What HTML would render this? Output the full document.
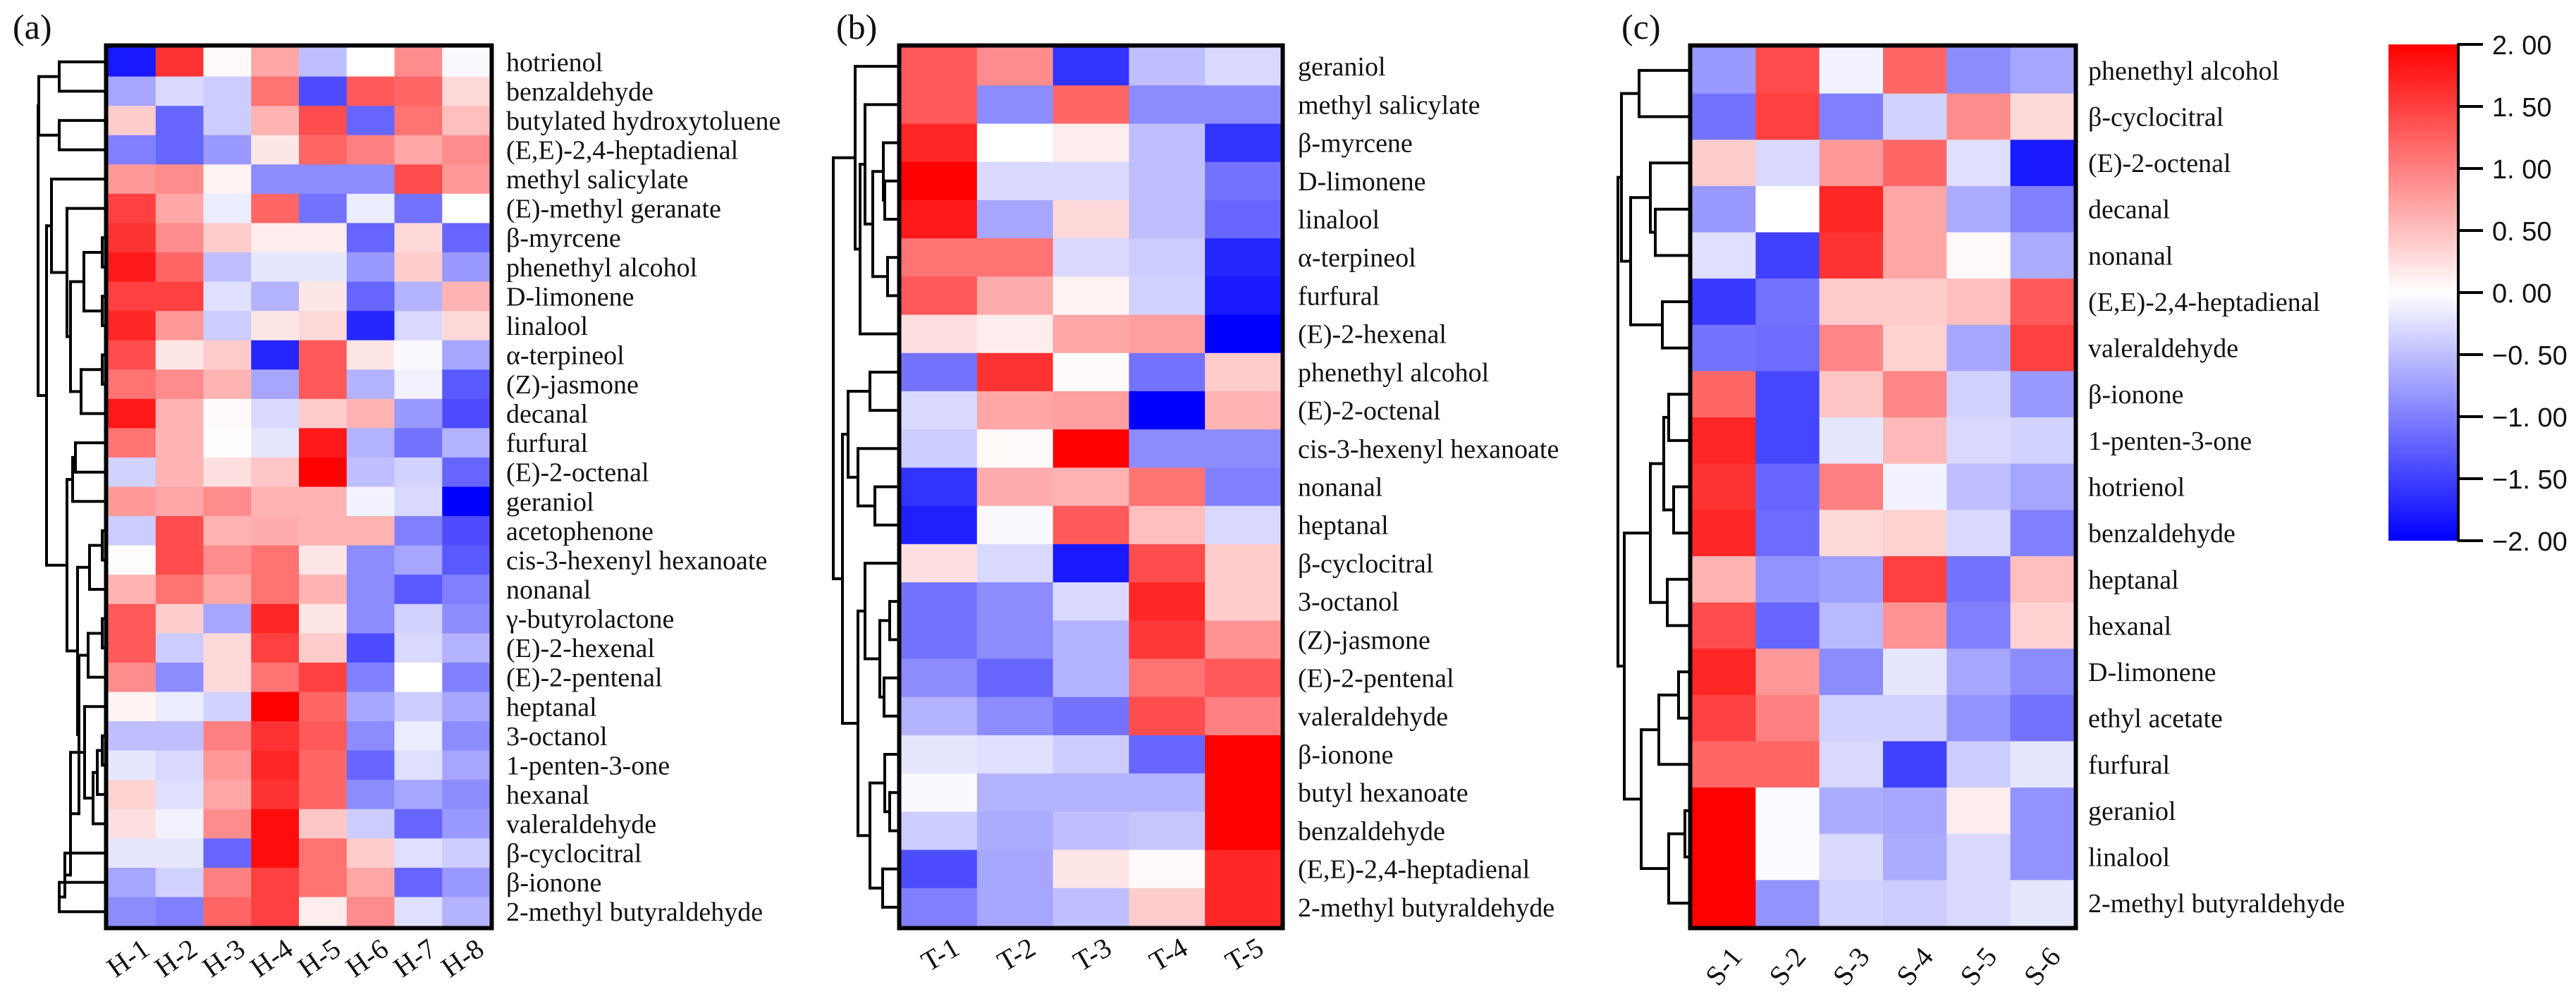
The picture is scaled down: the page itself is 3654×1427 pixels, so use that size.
<!DOCTYPE html>
<html><head><meta charset="utf-8"><style>
html,body{margin:0;padding:0;background:#fff;}
svg{display:block;}
text{font-family:"Liberation Serif",serif;fill:#111;}
.cb{font-family:"Liberation Sans",sans-serif;}
</style></head><body>
<svg id="chart" width="3654" height="1427" viewBox="0 0 3654 1427" xmlns="http://www.w3.org/2000/svg">
<defs><linearGradient id="cbg" x1="0" y1="0" x2="0" y2="1">
<stop offset="0" stop-color="#ff0000"/><stop offset="0.5" stop-color="#ffffff"/><stop offset="1" stop-color="#0000ff"/></linearGradient></defs>
<g id="root"></g>
</svg>
<script>
// ---------- data ----------
const rowsA = ["hotrienol","benzaldehyde","butylated hydroxytoluene","(E,E)-2,4-heptadienal","methyl salicylate","(E)-methyl geranate","β-myrcene","phenethyl alcohol","D-limonene","linalool","α-terpineol","(Z)-jasmone","decanal","furfural","(E)-2-octenal","geraniol","acetophenone","cis-3-hexenyl hexanoate","nonanal","γ-butyrolactone","(E)-2-hexenal","(E)-2-pentenal","heptanal","3-octanol","1-penten-3-one","hexanal","valeraldehyde","β-cyclocitral","β-ionone","2-methyl butyraldehyde"];
const colsA = ["H-1","H-2","H-3","H-4","H-5","H-6","H-7","H-8"];
const valsA = [
[-1.8,1.6,0.05,0.7,-0.5,0,0.9,-0.05],
[-0.7,-0.3,-0.4,1.1,-1.4,1.3,1.2,0.3],
[0.4,-1.2,-0.4,0.6,1.4,-1.2,1.1,0.5],
[-1.0,-1.2,-0.8,0.2,1.2,1.0,0.7,0.9],
[0.8,0.9,0.1,-0.9,-0.9,-0.9,1.4,0.8],
[1.5,0.7,-0.15,1.2,-1.1,-0.15,-1.1,0],
[1.6,0.9,0.4,0.15,0.15,-1.2,0.3,-1.2],
[1.8,1.2,-0.5,-0.2,-0.2,-0.8,0.4,-0.8],
[1.5,1.5,-0.25,-0.6,0.2,-1.2,-0.6,0.6],
[1.7,0.8,-0.4,0.2,0.3,-1.7,-0.3,0.3],
[1.4,0.2,0.4,-1.7,1.3,0.2,-0.05,-0.7],
[1.1,0.9,0.6,-0.7,1.3,-0.6,-0.1,-1.3],
[1.8,0.6,0.05,-0.3,0.4,0.6,-0.8,-1.4],
[1.1,0.6,0.02,-0.2,1.8,-0.6,-1.1,-0.6],
[-0.35,0.6,0.25,0.45,2.0,-0.5,-0.35,-1.2],
[0.8,0.7,0.9,0.6,0.6,-0.1,-0.3,-2.0],
[-0.4,1.4,0.6,0.65,0.6,0.6,-1.0,-1.4],
[0.02,1.4,0.9,1.1,0.2,-0.9,-0.7,-1.3],
[0.6,1.1,0.7,1.1,0.6,-0.9,-1.3,-1.0],
[1.3,0.4,-0.7,1.7,0.2,-0.9,-0.35,-0.9],
[1.3,-0.4,0.3,1.5,0.4,-1.4,-0.3,-0.6],
[0.9,-0.9,0.3,1.1,1.5,-1.0,0,-1.0],
[0.1,-0.15,-0.35,2.0,1.2,-0.7,-0.4,-0.7],
[-0.5,-0.5,1.0,1.6,1.3,-0.9,-0.15,-0.9],
[-0.2,-0.3,0.8,1.7,1.2,-1.2,-0.25,-0.7],
[0.35,-0.25,0.7,1.6,1.2,-0.9,-0.7,-0.9],
[0.25,-0.1,0.9,1.9,0.45,-0.4,-1.2,-0.8],
[-0.2,-0.2,-1.2,1.9,1.1,0.4,-0.25,-0.4],
[-0.7,-0.35,1.0,1.5,1.1,0.7,-1.2,-0.8],
[-0.9,-1.0,1.2,1.5,0.15,0.9,-0.25,-0.6]];
const treeA = [[[0,1,84],[2,3,84],55],[[4,[5,[[[6,7,145],[8,9,145],119],[[10,11,145],12,115],100],95],73],[[[13,14,107],15,103],[[[16,17,145],18,127],[[[19,20,145],21,125],[[22,[[[23,24,145],25,138],26,132],120],[27,[28,29,84],92],100],112],110],95],66],54];

const rowsB = ["geraniol","methyl salicylate","β-myrcene","D-limonene","linalool","α-terpineol","furfural","(E)-2-hexenal","phenethyl alcohol","(E)-2-octenal","cis-3-hexenyl hexanoate","nonanal","heptanal","β-cyclocitral","3-octanol","(Z)-jasmone","(E)-2-pentenal","valeraldehyde","β-ionone","butyl hexanoate","benzaldehyde","(E,E)-2,4-heptadienal","2-methyl butyraldehyde"];
const colsB = ["T-1","T-2","T-3","T-4","T-5"];
const valsB = [
[1.3,0.9,-1.6,-0.5,-0.3],
[1.3,-0.9,1.2,-0.9,-0.9],
[1.7,0,0.15,-0.5,-1.6],
[2.0,-0.3,-0.3,-0.5,-1.1],
[1.8,-0.7,0.3,-0.5,-1.2],
[1.1,1.1,-0.3,-0.4,-1.7],
[1.3,0.65,0.1,-0.35,-1.8],
[0.25,0.15,0.7,0.75,-2.0],
[-1.1,1.6,0.03,-1.1,0.4],
[-0.3,0.7,0.75,-2.0,0.6],
[-0.4,0.05,2.0,-0.9,-0.9],
[-1.6,0.65,0.6,1.1,-1.0],
[-1.75,-0.05,1.3,0.5,-0.3],
[0.25,-0.3,-1.8,1.4,0.4],
[-1.1,-0.9,-0.3,1.7,0.4],
[-1.1,-0.9,-0.6,1.55,0.85],
[-0.9,-1.2,-0.6,1.1,1.3],
[-0.6,-0.9,-1.1,1.4,1.0],
[-0.2,-0.25,-0.4,-1.2,2.0],
[-0.05,-0.6,-0.6,-0.6,2.0],
[-0.4,-0.65,-0.5,-0.45,2.0],
[-1.4,-0.7,0.2,0.05,1.7],
[-1.0,-0.7,-0.5,0.4,1.7]];
const treeB = [[0,[[1,[[2,[3,4,1255],1253],[5,6,1259],1238],1227],7,1220],1213],[[[8,9,1234],[10,[11,12,1241],1217],1203],[[13,[[14,15,1262],[16,17,1254],1248],1227],[[18,[19,20,1262],1255],[21,22,1252],1234],1217],1195],1182];

const rowsC = ["phenethyl alcohol","β-cyclocitral","(E)-2-octenal","decanal","nonanal","(E,E)-2,4-heptadienal","valeraldehyde","β-ionone","1-penten-3-one","hotrienol","benzaldehyde","heptanal","hexanal","D-limonene","ethyl acetate","furfural","geraniol","linalool","2-methyl butyraldehyde"];
const colsC = ["S-1","S-2","S-3","S-4","S-5","S-6"];
const valsC = [
[-0.8,1.4,-0.1,1.2,-0.9,-0.7],
[-1.1,1.5,-1.0,-0.35,0.9,0.3],
[0.4,-0.3,0.8,1.2,-0.25,-1.8],
[-0.8,0,1.7,0.7,-0.65,-1.0],
[-0.25,-1.5,1.6,0.7,0.05,-0.65],
[-1.55,-1.1,0.4,0.4,0.5,1.3],
[-1.1,-1.15,0.95,0.35,-0.7,1.5],
[1.2,-1.45,0.45,0.95,-0.35,-0.8],
[1.7,-1.45,-0.2,0.55,-0.3,-0.35],
[1.6,-1.2,1.0,-0.1,-0.5,-0.7],
[1.7,-1.15,0.3,0.35,-0.3,-1.0],
[0.6,-0.85,-0.75,1.5,-1.1,0.5],
[1.4,-1.2,-0.55,0.85,-1.0,0.35],
[1.7,0.8,-0.9,-0.2,-0.7,-0.9],
[1.5,1.0,-0.35,-0.35,-0.85,-1.1],
[1.2,1.2,-0.3,-1.5,-0.4,-0.2],
[2.0,-0.03,-0.65,-0.7,0.15,-0.85],
[2.0,-0.03,-0.3,-0.65,-0.3,-0.85],
[2.0,-0.85,-0.35,-0.4,-0.3,-0.2]];
const treeC = [[[0,1,2325],[[2,[3,4,2348],2341],[5,6,2358],2313],2300],[[[[7,8,2367],[9,10,2374],2360],[11,12,2365],2341],[[[13,14,2381],15,2353],[[16,17,2390],18,2367],2328],2304],2295];

const cbTicks = [2,1.5,1,0.5,0,-0.5,-1,-1.5,-2];
const cbLabels = ["2. 00","1. 50","1. 00","0. 50","0. 00","\u22120. 50","\u22121. 00","\u22121. 50","\u22122. 00"];

// ---------- drawing ----------
const NS="http://www.w3.org/2000/svg";
const root=document.getElementById('root');
function mk(tag,attrs,parent){const e=document.createElementNS(NS,tag);for(const k in attrs)e.setAttribute(k,attrs[k]);(parent||root).appendChild(e);return e;}
function color(v){v=Math.max(-2,Math.min(2,v));const t=Math.abs(v)/2;const c=Math.round(255*(1-t));return v>=0?`rgb(255,${c},${c})`:`rgb(${c},${c},255)`;}

function panel(cfg){
  const g=mk('g',{});
  
  
  const nR=cfg.rows.length,nC=cfg.cols.length;
  const cw=(cfg.x1-cfg.x0)/nC,rh=(cfg.y1-cfg.y0)/nR;
  const xs=j=>cfg.x0+j*cw, ys=i=>cfg.y0+i*rh;
  cfg.vals.forEach((row,i)=>row.forEach((v,j)=>{
    const r=mk('rect',{x:xs(j),y:ys(i),width:cw+0.6,height:rh+0.6,fill:color(v)},g);
    
    
  }));
  const b=mk('rect',{x:cfg.x0-2.5,y:cfg.y0-2.5,width:cfg.x1-cfg.x0+5,height:cfg.y1-cfg.y0+5,fill:'none',stroke:'#000','stroke-width':6},g);
  
  
  cfg.rows.forEach((n,i)=>{
    const t=mk('text',{x:cfg.lx,y:ys(i)+rh/2+13,'font-size':38},g);
    t.textContent=n;
    
    
  });
  cfg.cols.forEach((n,j)=>{
    const cx=xs(j)+cw/2+cfg.tdx, cy=cfg.ty;
    const t=mk('text',{x:cx,y:cy,'font-size':40,'text-anchor':'end',transform:`rotate(${cfg.rot} ${cx} ${cy})`},g);
    t.textContent=n;
    
    
  });
  const lab=mk('text',{x:cfg.px,y:55,'font-size':50},g);
  lab.textContent=cfg.label;
  
  
  const dg=mk('g',{stroke:'#000','stroke-width':4,fill:'none'},g);
  
  
  function walk(n){
    if(typeof n==='number')return {x:cfg.x0-3,y:ys(n)+rh/2};
    const a=walk(n[0]),c=walk(n[1]),x=n[2];
    mk('line',{x1:a.x,y1:a.y,x2:x,y2:a.y},dg);
    mk('line',{x1:c.x,y1:c.y,x2:x,y2:c.y},dg);
    mk('line',{x1:x,y1:a.y-2,x2:x,y2:c.y+2},dg);
    return {x:x,y:(a.y+c.y)/2};
  }
  walk(cfg.tree);
}
panel({name:'panel-a',label:'(a)',px:18,rows:rowsA,cols:colsA,vals:valsA,tree:treeA,x0:153,x1:695,y0:67,y1:1314,lx:718,tdx:28,ty:1352,rot:-35});
panel({name:'panel-b',label:'(b)',px:1186,rows:rowsB,cols:colsB,vals:valsB,tree:treeB,x0:1278,x1:1817,y0:67,y1:1314,lx:1841,tdx:32,ty:1352,rot:-30});
panel({name:'panel-c',label:'(c)',px:2300,rows:rowsC,cols:colsC,vals:valsC,tree:treeC,x0:2400,x1:2942,y0:67,y1:1314,lx:2962,tdx:28,ty:1358,rot:-50});

// colorbar
const cb=mk('g',{});


const cbTop=63,cbBot=767,cbX0=3388,cbX1=3487;
const cy=v=>cbTop+(2-v)/4*(cbBot-cbTop);
const cr=mk('rect',{x:cbX0,y:cbTop,width:cbX1-cbX0,height:cbBot-cbTop,fill:'url(#cbg)'},cb);


mk('line',{x1:cbX1,y1:cbTop-1.5,x2:cbX1,y2:cbBot+1.5,stroke:'#000','stroke-width':4},cb);
cbTicks.forEach((v,i)=>{
  mk('line',{x1:cbX1,y1:cy(v),x2:3522,y2:cy(v),stroke:'#000','stroke-width':4},cb);
  const t=mk('text',{x:3535,y:cy(v)+14,'font-size':38,class:'cb'},cb);
  t.textContent=cbLabels[i];
  
  
});
</script>
</body></html>
